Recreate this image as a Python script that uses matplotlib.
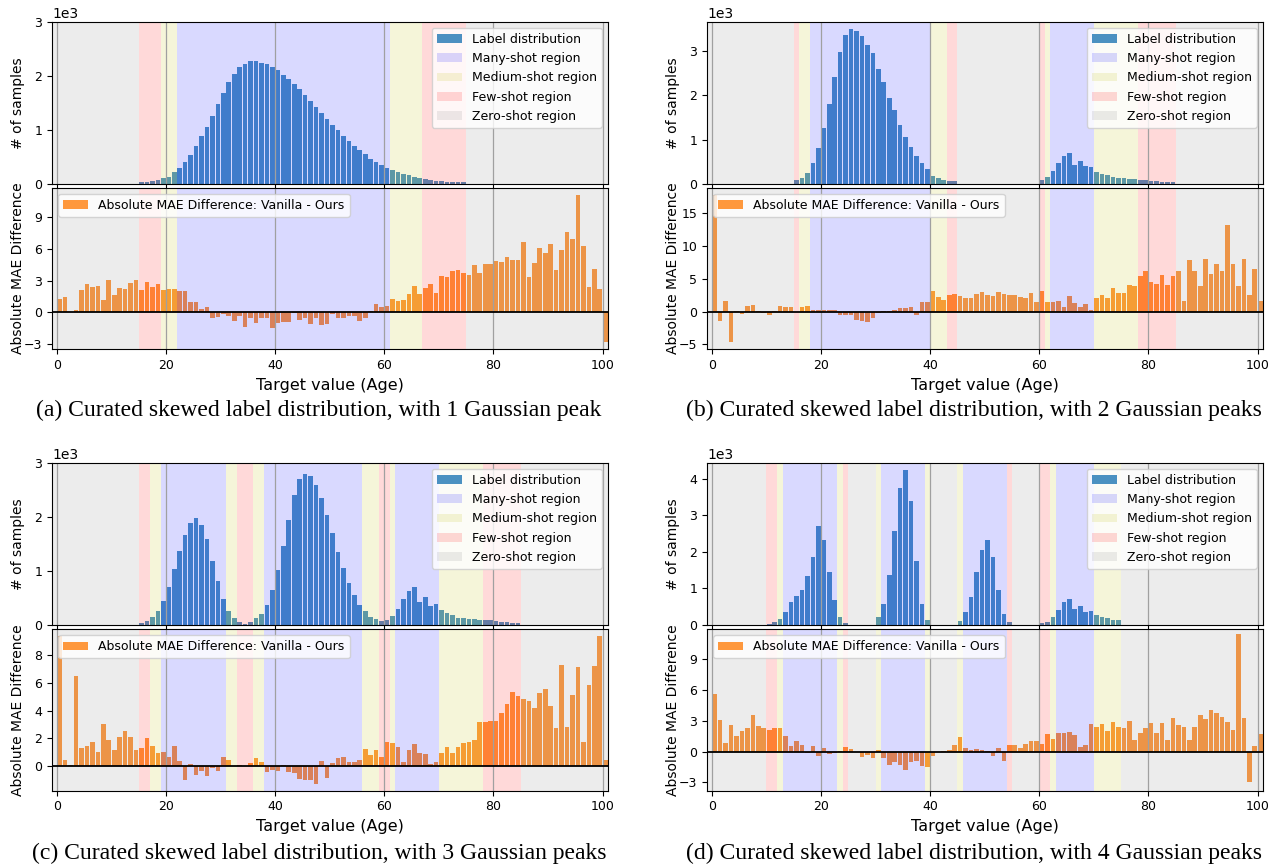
import matplotlib
matplotlib.use("Agg")
import matplotlib.pyplot as plt
import numpy as np
from matplotlib.patches import Patch
from matplotlib.ticker import MultipleLocator

# label counts per age bin (start age + consecutive counts)
hist_a_start = 15
hist_a = [40, 40, 60, 75, 110, 135, 220, 295, 405, 530,
          705, 880, 1050, 1260, 1480, 1690, 1890, 2040, 2160, 2220,
          2280, 2270, 2240, 2210, 2160, 2100, 2020, 1940, 1850, 1760,
          1640, 1540, 1420, 1320, 1200, 1090, 1000, 890, 800, 705,
          620, 555, 460, 405, 360, 295, 255, 220, 185, 160,
          130, 120, 100, 75, 60, 55, 45, 40, 40, 40]

hist_b_start = 15
hist_b = [90, 135, 250, 470, 810, 1250, 1810, 2400, 2970, 3360,
          3480, 3440, 3330, 3140, 2940, 2580, 2300, 1930, 1660, 1330,
          1060, 830, 630, 465, 330, 180, 130, 90, 75, 60,
          0, 0, 0, 0, 0, 0, 0, 0, 0, 0, 0, 0, 0, 0, 0,
          90, 165, 285, 470, 640, 690, 435, 515, 405, 380,
          270, 225, 195, 165, 135, 125, 110, 105, 90, 90,
          75, 60, 52, 52, 52]

hist_c_start = 15
hist_c = [37, 74, 148, 258, 443, 700, 1030, 1365, 1670, 1890,
          1970, 1855, 1585, 1190, 810, 473, 258, 135, 61, 25,
          61, 123, 203, 369, 650, 1015, 1460, 1935, 2395, 2705,
          2795, 2750, 2580, 2350, 2030, 1700, 1350, 1045, 780, 553,
          369, 258, 154, 110, 74, 92, 166, 295, 480, 627,
          700, 430, 510, 350, 393, 276, 215, 184, 135, 135,
          117, 117, 98, 98, 98, 80, 61, 61, 43, 43]

hist_d_start = 10
hist_d = [18, 73, 164, 364, 636, 791, 955, 1336, 1855, 2700,
          2318, 1445, 682, 218, 55, 0, 0, 0, 0, 0,
          218, 573, 1364, 2573, 3736, 4227, 3382, 1745, 573, 136,
          0, 0, 0, 0, 0, 109, 364, 764, 1455, 2045,
          2318, 1855, 955, 300, 82, 0, 0, 0, 0, 0,
          45, 82, 218, 418, 636, 709, 436, 509, 364, 382,
          273, 218, 200, 145, 145]

# MAE difference (vanilla - ours) for ages 0..100
mae_a = [1.26, 1.45, 0.05, 0.2, 2.1, 2.67, 2.42, 2.48, 1.16, 3.05,
         1.63, 2.26, 2.2, 2.77, 3.05, 2.1, 2.86, 2.39, 2.67, 2.14,
         2.2, 2.2, 2.01, 2.01, 1.0, 0.97, 0.31, 0.5, -0.57, -0.47,
         -0.19, -0.38, -0.82, -0.38, -1.35, -0.57, -0.97, -0.57, -0.5, -1.45,
         -1.04, -0.88, -0.94, -0.1, -0.72, -0.57, -1.07, -0.5, -1.16, -1.13,
         -0.13, -0.5, -0.5, -0.38, -0.38, -0.85, -0.55, 0.13, 0.82, 0.5,
         0.6, 1.23, 1.07, 1.2, 1.73, 2.48, 1.7, 2.3, 2.64, 1.79,
         3.43, 3.36, 3.9, 4.0, 3.68, 3.52, 4.47, 3.68, 4.53, 4.53,
         4.84, 4.72, 5.22, 4.94, 4.94, 6.6, 3.36, 4.62, 6.04, 5.63,
         6.41, 4.0, 5.85, 7.55, 6.92, 11.07, 6.29, 2.42, 4.09, 2.2,
         -2.83]

mae_b = [17.8, -1.47, 1.68, -4.67, 0.05, -0.41, 0.91, 1.07, 0.05, -0.25,
         -0.56, 0.05, 0.91, 0.76, 0.76, 0.0, 0.76, 0.91, 0.3, 0.3,
         0.3, 0.2, 0.3, -0.56, -0.56, -0.56, -1.22, -1.47, -1.62, -0.96,
         -0.25, 0.05, 0.15, 0.25, 0.5, 0.5, 0.76, -0.46, 1.42, 1.42,
         3.1, 2.18, 1.73, 2.54, 2.74, 2.44, 2.03, 2.03, 2.74, 3.05,
         2.54, 2.44, 3.05, 2.64, 2.54, 2.54, 2.28, 2.03, 2.79, 1.52,
         3.2, 1.52, 1.52, 1.68, 0.76, 2.44, 1.27, 0.66, 1.17, 0.25,
         2.08, 2.59, 2.08, 3.65, 2.84, 2.84, 4.11, 3.86, 5.38, 6.24,
         4.47, 4.21, 5.63, 4.01, 5.48, 6.24, 1.68, 7.92, 6.24, 3.96,
         8.07, 5.74, 7.31, 6.24, 13.15, 7.31, 3.96, 8.07, 2.54, 6.55,
         1.68]

mae_c = [9.33, 0.48, 0.12, 6.48, 1.31, 1.48, 1.76, 1.05, 3.05, 1.9,
         1.19, 2.12, 2.55, 2.12, 1.19, 1.33, 2.05, 1.48, 0.98, 1.05,
         0.69, 1.48, 0.4, -0.95, 0.19, -0.64, -0.31, -0.71, -0.14, -0.31,
         0.69, 0.48, 0.0, 0.12, 0.0, 0.26, 0.62, 0.33, -0.43, -0.26,
         -0.31, 0.12, -0.38, -0.5, -0.88, -0.95, -0.95, -1.24, 0.4, -0.81,
         0.26, 0.62, 0.69, 0.33, 0.33, 0.48, 1.26, 0.83, 1.19, 0.69,
         1.76, 1.69, 1.4, 0.33, 1.19, 1.62, 0.98, 0.9, 0.19, 0.33,
         0.98, 1.4, 0.98, 1.4, 1.69, 1.76, 1.9, 3.19, 3.19, 3.26,
         3.26, 3.83, 4.48, 5.33, 5.05, 4.83, 4.69, 4.19, 5.26, 5.55,
         4.33, 2.76, 7.26, 2.83, 5.12, 7.12, 1.76, 5.83, 7.19, 9.33,
         0.48]

mae_d = [5.6, 3.06, 0.81, 2.58, 1.5, 1.98, 2.28, 3.55, 2.47, 2.28,
         2.08, 2.28, 2.28, 1.5, 0.52, 1.01, 0.62, -0.16, 0.52, -0.42,
         0.32, -0.23, -0.13, 0.05, 0.42, 0.23, 0.0, -0.52, -0.32, -0.65,
         0.13, -0.62, -1.31, -1.01, -1.31, -1.79, -1.01, -0.92, -1.4, -1.5,
         -0.42, -0.05, 0.07, 0.13, 0.62, 1.4, 0.32, 0.13, 0.23, 0.13,
         0.03, -0.42, 0.32, -0.92, 0.62, 0.62, 0.32, 0.72, 1.01, 1.01,
         0.72, 1.69, 1.2, 1.79, 1.79, 1.89, 1.59, 0.42, 0.62, 2.67,
         2.38, 2.67, 1.98, 2.86, 2.38, 2.28, 2.96, 1.11, 1.79, 2.28,
         2.77, 1.79, 2.77, 1.11, 3.25, 2.58, 2.38, 1.11, 2.38, 3.55,
         3.16, 4.04, 3.74, 3.36, 2.86, 2.08, 11.45, 3.25, -2.96, 0.52,
         1.69]

# shot regions: (start, end, kind)
regions_a = [(-2, 15, 'zero'), (15, 19, 'few'), (19, 22, 'medium'), (22, 61, 'many'),
             (61, 67, 'medium'), (67, 75, 'few'), (75, 103, 'zero')]
regions_b = [(-2, 15, 'zero'), (15, 16, 'few'), (16, 18, 'medium'), (18, 40, 'many'),
             (40, 43, 'medium'), (43, 45, 'few'), (45, 60, 'zero'), (60, 61, 'few'),
             (61, 62, 'medium'), (62, 70, 'many'), (70, 78, 'medium'), (78, 85, 'few'),
             (85, 103, 'zero')]
regions_c = [(-2, 15, 'zero'), (15, 17, 'few'), (17, 19, 'medium'), (19, 31, 'many'),
             (31, 33, 'medium'), (33, 36, 'few'), (36, 38, 'medium'), (38, 56, 'many'),
             (56, 59, 'medium'), (59, 61, 'few'), (61, 62, 'medium'), (62, 70, 'many'),
             (70, 78, 'medium'), (78, 85, 'few'), (85, 103, 'zero')]
regions_d = [(-2, 10, 'zero'), (10, 12, 'few'), (12, 13, 'medium'), (13, 23, 'many'),
             (23, 24, 'medium'), (24, 25, 'few'), (25, 30, 'zero'), (30, 31, 'medium'),
             (31, 39, 'many'), (39, 40, 'medium'), (40, 45, 'zero'), (45, 46, 'medium'),
             (46, 54, 'many'), (54, 55, 'few'), (55, 60, 'zero'), (60, 62, 'few'),
             (62, 63, 'medium'), (63, 70, 'many'), (70, 75, 'medium'), (75, 103, 'zero')]

captions = ["(a) Curated skewed label distribution, with 1 Gaussian peak",
            "(b) Curated skewed label distribution, with 2 Gaussian peaks",
            "(c) Curated skewed label distribution, with 3 Gaussian peaks",
            "(d) Curated skewed label distribution, with 4 Gaussian peaks"]

region_colors = {'many': 'blue', 'medium': 'y', 'few': 'red', 'zero': 'grey'}
region_names = [('many', 'Many-shot region'), ('medium', 'Medium-shot region'),
                ('few', 'Few-shot region'), ('zero', 'Zero-shot region')]


def draw_panel(ax_top, ax_bot, start, counts, mae, regions, top_lim, bot_lim, bot_step,
               caption, cx, cy):
    x_hist = np.arange(start, start + len(counts)) + 0.5
    ax_top.bar(x_hist, counts, width=0.85, color='tab:blue', alpha=0.8)
    x_mae = np.arange(len(mae)) + 0.5
    ax_bot.bar(x_mae, mae, width=0.85, color='tab:orange', alpha=0.8,
               label='Absolute MAE Difference: Vanilla - Ours')

    for ax in (ax_top, ax_bot):
        for s, e, kind in regions:
            ax.axvspan(s, e, color=region_colors[kind], alpha=0.15, lw=0)
        ax.set_xlim(-0.9, 101)
        ax.xaxis.set_major_locator(MultipleLocator(20))
        ax.grid(axis='x', color='#a0a0a0', lw=0.9)
        ax.tick_params(labelsize=9)

    ax_bot.axhline(0, color='black', lw=1.3)

    if top_lim is not None:
        ax_top.set_ylim(0, top_lim)
    ax_top.yaxis.set_major_locator(MultipleLocator(1000))
    ax_top.ticklabel_format(axis='y', style='sci', scilimits=(3, 3))
    ax_top.tick_params(labelbottom=False)
    ax_bot.set_ylim(*bot_lim)
    ax_bot.yaxis.set_major_locator(MultipleLocator(bot_step))

    handles = [Patch(facecolor='tab:blue', alpha=0.8, label='Label distribution')]
    for kind, name in region_names:
        handles.append(Patch(facecolor=region_colors[kind], alpha=0.15, label=name))
    ax_top.legend(handles=handles, loc='upper right', fontsize=9)
    ax_bot.legend(loc='upper left', fontsize=9)

    ax_top.set_ylabel('# of samples', fontsize=10)
    ax_bot.set_ylabel('Absolute MAE Difference', fontsize=10)
    for ax in (ax_top, ax_bot):
        ax.yaxis.set_label_coords(-0.062, 0.5)
        ax.yaxis.label.set_va('center')
    ax_bot.set_xlabel('Target value (Age)', fontsize=11.5)

    fig.text(cx, cy, caption, ha='center', va='center',
             family=['Liberation Serif', 'DejaVu Serif'], fontsize=17)


fig = plt.figure(figsize=(12.7, 8.65), dpi=100)

col_left = [52 / 1270, 707 / 1270]
col_w = 556 / 1270
row_top = [(0.78728, 0.59618), (0.27746, 0.08590)]
h_top, h_bot = 0.18763, 0.18682

panels = [
    (hist_a_start, hist_a, mae_a, regions_a, 3000, (-3.5, 11.77), 3),
    (hist_b_start, hist_b, mae_b, regions_b, None, (-5.75, 18.9), 5),
    (hist_c_start, hist_c, mae_c, regions_c, 3000, (-1.75, 9.85), 2),
    (hist_d_start, hist_d, mae_d, regions_d, None, (-3.8, 11.95), 3),
]
cap_x = [319 / 1270, 974 / 1270]
cap_y = [1 - 410 / 865, 1 - 853 / 865]

for i, (start, counts, mae, regions, top_lim, bot_lim, step) in enumerate(panels):
    r, c = divmod(i, 2)
    ax_top = fig.add_axes([col_left[c], row_top[r][0], col_w, h_top])
    ax_bot = fig.add_axes([col_left[c], row_top[r][1], col_w, h_bot])
    draw_panel(ax_top, ax_bot, start, counts, mae, regions, top_lim, bot_lim, step,
               captions[i], cap_x[c], cap_y[r])

fig.savefig('out.png', dpi=100)
